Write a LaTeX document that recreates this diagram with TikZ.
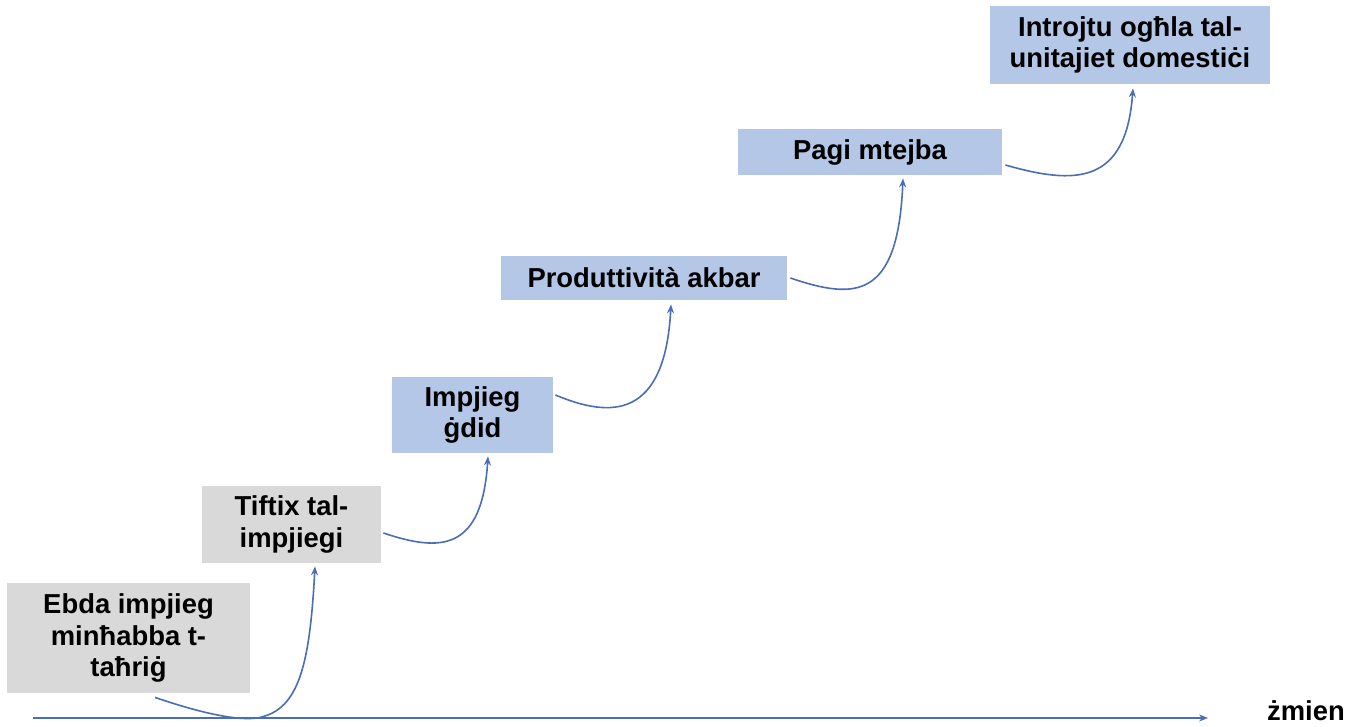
\documentclass[tikz,border=0pt]{standalone}
\usepackage{fontspec}
\setmainfont{Liberation Sans}
\usetikzlibrary{arrows.meta,calc}
\definecolor{boxblue}{HTML}{B4C7E7}
\definecolor{boxgray}{HTML}{D9D9D9}
\definecolor{linkblue}{HTML}{4A6DB8}
\begin{document}
\begin{tikzpicture}[x=0.5pt,y=-0.5pt,
  stepbox/.style={rectangle, inner sep=0pt, align=center,
    font=\fontsize{13.7}{15.6}\selectfont\bfseries, text=black},
  graybox/.style={stepbox, fill=boxgray},
  bluebox/.style={stepbox, fill=boxblue},
  conn/.style={draw=linkblue, line width=0.8pt, -{Stealth[length=4.5pt,width=3.5pt]}},
  lbl/.style={font=\fontsize{13.7}{15.6}\selectfont\bfseries}]
\useasboundingbox (0,0) rectangle (1357,727);
\node[graybox, minimum width=121.5pt, minimum height=55pt] (b1) at (128.5,638) {Ebda impjieg\\minħabba t-\\taħriġ};
\node[graybox, minimum width=89.5pt, minimum height=38.5pt] (b2) at (291.5,524.5) {Tiftix tal-\\impjiegi};
\node[bluebox, minimum width=80.5pt, minimum height=38pt] (b3) at (472.5,415) {Impjieg\\ġdid};
\node[bluebox, minimum width=143pt, minimum height=22pt] (b4) at (644,278) {Produttività akbar};
\node[bluebox, minimum width=132pt, minimum height=23pt] (b5) at (870,152) {Pagi mtejba};
\node[bluebox, minimum width=140pt, minimum height=39pt] (b6) at (1130,45) {Introjtu ogħla tal-\\unitajiet domestiċi};
\coordinate (ax0) at (33,718);
\coordinate (ax1) at (1208,718);
\node[lbl] (zmien) at (1306,711) {żmien};
\draw[conn] (ax0) -- (ax1);
\draw[conn] ($(b1.south)+(26.5,4)$) .. controls (215,718) and (250,722) .. (265,716)
   .. controls (300,705) and (310,660) .. ($(b2.south)+(23.5,3)$);
\draw[conn] ($(b2.east)+(2,8.5)$) .. controls (440,552) and (482,552) .. ($(b3.south)+(15.5,3)$);
\draw[conn] ($(b3.east)+(2,-20)$) .. controls (610,418) and (665,420) .. ($(b4.south)+(27,4)$);
\draw[conn] ($(b4.east)+(3,0)$) .. controls (855,300) and (898,300) .. ($(b5.south)+(33,3)$);
\draw[conn] ($(b5.east)+(3,13)$) .. controls (1075,185) and (1126,185) .. ($(b6.south)+(3,4)$);
\end{tikzpicture}
\end{document}
